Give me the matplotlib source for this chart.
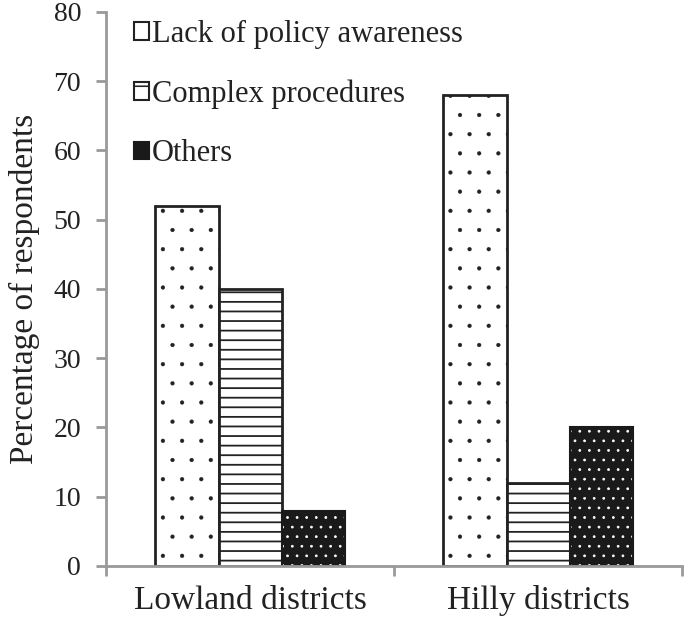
import numpy as np
import matplotlib.pyplot as plt
from matplotlib.patches import Patch

categories = ['Lowland districts', 'Hilly districts']
series_names = ['Lack of policy awareness', 'Complex procedures', 'Others']
lack_awareness = [52, 68]
complex_proc = [40, 12]
others = [8, 20]

plt.rcParams['font.family'] = ['Liberation Serif', 'DejaVu Serif']

DPI = 115
s = 100 / DPI  # keep sizes as if drawn at 100 dpi
fig = plt.figure(figsize=(685 / DPI, 621 / DPI), dpi=DPI)
ax = fig.add_axes([0.155, 0.0886, 0.841, 0.8925])

x = np.arange(len(categories))
w = 0.22
edge = '#222222'

with plt.rc_context({'hatch.linewidth': 0.2}):
    ax.bar(x - w, lack_awareness, w, facecolor='white', edgecolor=edge,
           hatch='.', linewidth=2 * s)
with plt.rc_context({'hatch.linewidth': 1.3 * s}):
    ax.bar(x, complex_proc, w, facecolor='white', edgecolor=edge,
           hatch='--', linewidth=2 * s)
# others: black with white dots
with plt.rc_context({'hatch.linewidth': 0.5}):
    ax.bar(x + w, others, w, facecolor='#1a1a1a', edgecolor='white',
           hatch='..', linewidth=0)
ax.bar(x + w, others, w, facecolor='none', edgecolor='#1a1a1a', linewidth=1.5 * s)

ax.set_xlim(-0.5, 1.5)
ax.set_ylim(0, 80)
ax.set_yticks(range(0, 81, 10))
ax.set_xticks([-0.5, 0.5, 1.5])
ax.set_xticklabels(['', '', ''])
ax.set_xticks(x, minor=True)
ax.set_xticklabels(categories, minor=True, fontsize=24 * s)
ax.tick_params(axis='x', which='minor', length=0, pad=14 * s)
ax.tick_params(axis='x', which='major', length=7 * s, color='#999999', width=2 * s)
ax.tick_params(axis='y', length=7 * s, color='#999999', width=2 * s,
               labelsize=20 * s, pad=11 * s, labelcolor='#222222')
ax.tick_params(axis='x', which='minor', labelcolor='#222222')

for side in ['top', 'right']:
    ax.spines[side].set_visible(False)
for side in ['left', 'bottom']:
    ax.spines[side].set_color('#999999')
    ax.spines[side].set_linewidth(2 * s)

ax.set_ylabel('Percentage of respondents', fontsize=24 * s, labelpad=10 * s,
              color='#222222')

with plt.rc_context({'hatch.linewidth': 1.3 * s}):
    h2 = Patch(facecolor='white', edgecolor=edge, hatch='-', linewidth=1.5 * s)
with plt.rc_context({'hatch.linewidth': 0.5}):
    h3 = Patch(facecolor='#1a1a1a', edgecolor='#1a1a1a', linewidth=1.5 * s)
handles = [Patch(facecolor='white', edgecolor=edge, linewidth=1.5 * s), h2, h3]
leg = ax.legend(handles, series_names, loc='upper left',
                bbox_to_anchor=(0.0, 1.035), frameon=False, fontsize=22 * s,
                handlelength=0.5, handleheight=0.5, handletextpad=0.1,
                labelspacing=1.0)
for t in leg.get_texts():
    t.set_color('#222222')

fig.savefig('out.png', dpi=DPI)
